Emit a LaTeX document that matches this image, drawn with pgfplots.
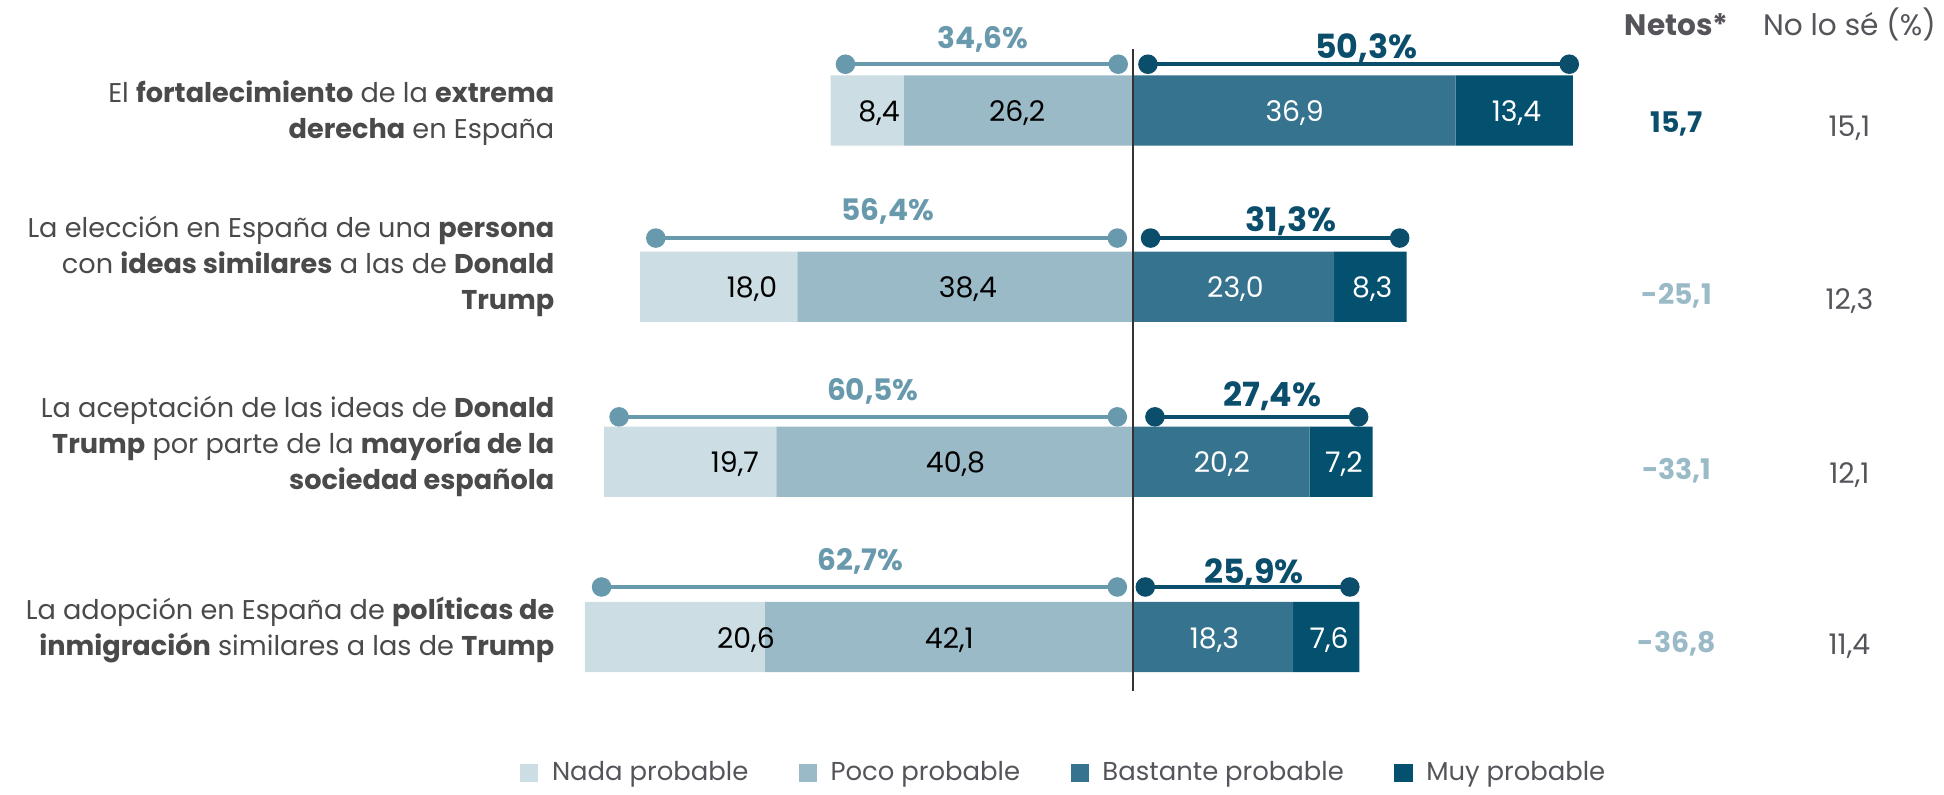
\documentclass[border=0pt]{standalone}
\usepackage{pgfplots}
\pgfplotsset{compat=1.18}
\usepackage{fontspec}
\setmainfont{Poppins}
\definecolor{nada}{HTML}{CCDDE4}
\definecolor{poco}{HTML}{9BBAC7}
\definecolor{bast}{HTML}{35738F}
\definecolor{muy}{HTML}{03506F}
\definecolor{lightc}{HTML}{6899AC}
\definecolor{darkc}{HTML}{0A4E6C}
\definecolor{txt}{HTML}{4A4A4A}
\definecolor{hdr}{HTML}{57535A}
\def\X#1{(#1-919)/7.09}
\pgfplotsset{base/.style={width=784pt, height=320.2pt, scale only axis, hide axis,
  xmin=-129.62, xmax=91.54, ymin=0, ymax=640.4, y dir=reverse, clip=false}}
\begin{document}
\begin{tikzpicture}
\begin{axis}[base, xbar stacked, bar width=57]
\addplot[fill=poco, draw=none] coordinates {(-26.2,89.5) (-38.4,232.5) (-40.8,374.5) (-42.1,516.5)};
\addplot[fill=nada, draw=none] coordinates {(-8.4,89.5) (-18.0,232.5) (-19.7,374.5) (-20.6,516.5)};
\addplot[fill=bast, draw=none] coordinates {(36.9,89.5) (23.0,232.5) (20.2,374.5) (18.3,516.5)};
\addplot[fill=muy, draw=none] coordinates {(13.4,89.5) (8.3,232.5) (7.2,374.5) (7.6,516.5)};
\path (rel axis cs:0,0) rectangle (rel axis cs:1,1);
\end{axis}
\begin{axis}[base,
  legend style={at={(0.551,0.021)}, anchor=center, draw=none, fill=none,
    legend columns=4, font=\fontsize{10.5}{13}\selectfont\color{hdr},
    /tikz/every odd column/.append style={column sep=3.5pt},
    /tikz/every even column/.append style={column sep=18.5pt}},
  legend image code/.code={\fill[#1] (0pt,-3.5pt) rectangle (7pt,3.5pt);}]
\addlegendimage{nada}\addlegendentry{Nada probable}
\addlegendimage{poco}\addlegendentry{Poco probable}
\addlegendimage{bast}\addlegendentry{Bastante probable}
\addlegendimage{muy}\addlegendentry{Muy probable}
\addplot[black!80, line width=1pt, forget plot] coordinates {(0,40) (0,560)};
\addplot[lightc, line width=1.5pt, mark=*, mark size=3.2pt, forget plot] coordinates {(-32.9,52) (-1.7,52)};
\addplot[lightc, line width=1.5pt, mark=*, mark size=3.2pt, forget plot] coordinates {(-54.6,193) (-1.8,193)};
\addplot[lightc, line width=1.5pt, mark=*, mark size=3.2pt, forget plot] coordinates {(-58.8,338) (-1.8,338)};
\addplot[lightc, line width=1.5pt, mark=*, mark size=3.2pt, forget plot] coordinates {(-60.8,476) (-1.8,476)};
\addplot[darkc, line width=1.5pt, mark=*, mark size=3.2pt, forget plot] coordinates {(1.7,52) (49.9,52)};
\addplot[darkc, line width=1.5pt, mark=*, mark size=3.2pt, forget plot] coordinates {(2.0,193) (30.5,193)};
\addplot[darkc, line width=1.5pt, mark=*, mark size=3.2pt, forget plot] coordinates {(2.5,338) (25.8,338)};
\addplot[darkc, line width=1.5pt, mark=*, mark size=3.2pt, forget plot] coordinates {(1.4,476) (24.8,476)};
\path (rel axis cs:0,0) rectangle (rel axis cs:1,1);
% percentage labels
\tikzset{pl/.style={anchor=base, font=\fontsize{12}{14}\selectfont\bfseries, text=lightc},
         pr/.style={anchor=base, font=\fontsize{13.5}{15}\selectfont\bfseries, text=darkc},
         vl/.style={anchor=base, font=\fontsize{11.5}{13}\selectfont},
         lab/.style={anchor=east, align=right, inner sep=0pt, font=\fontsize{11}{14.5}\selectfont, text=txt}}
\node[pl] at (axis cs:{\X{797}},39) {34,6\%};
\node[pr] at (axis cs:{\X{1108}},47) {50,3\%};
\node[pl] at (axis cs:{\X{720}},179) {56,4\%};
\node[pr] at (axis cs:{\X{1047}},188) {31,3\%};
\node[pl] at (axis cs:{\X{708}},325) {60,5\%};
\node[pr] at (axis cs:{\X{1032}},330) {27,4\%};
\node[pl] at (axis cs:{\X{698}},463) {62,7\%};
\node[pr] at (axis cs:{\X{1017}},473) {25,9\%};
% values in bars
\node[vl] at (axis cs:{\X{713}},98.5) {8,4};
\node[vl] at (axis cs:{\X{610}},241.5) {18,0};
\node[vl] at (axis cs:{\X{596}},383.5) {19,7};
\node[vl] at (axis cs:{\X{605}},525.5) {20,6};
\node[vl] at (axis cs:{\X{825}},98.5) {26,2};
\node[vl] at (axis cs:{\X{785}},241.5) {38,4};
\node[vl] at (axis cs:{\X{775}},383.5) {40,8};
\node[vl] at (axis cs:{\X{770}},525.5) {42,1};
\node[vl, text=white] at (axis cs:{\X{1050}},98.5) {36,9};
\node[vl, text=white] at (axis cs:{\X{1002}},241.5) {23,0};
\node[vl, text=white] at (axis cs:{\X{991}},383.5) {20,2};
\node[vl, text=white] at (axis cs:{\X{985}},525.5) {18,3};
\node[vl, text=white] at (axis cs:{\X{1230}},98.5) {13,4};
\node[vl, text=white] at (axis cs:{\X{1113}},241.5) {8,3};
\node[vl, text=white] at (axis cs:{\X{1090}},383.5) {7,2};
\node[vl, text=white] at (axis cs:{\X{1078}},525.5) {7,6};
% headers and side columns
\node[anchor=base, font=\fontsize{12}{14}\selectfont\bfseries, text=hdr] at (axis cs:{\X{1360}},29) {Netos*};
\node[anchor=base, font=\fontsize{12}{14}\selectfont, text=hdr] at (axis cs:{\X{1500}},29) {No lo sé (\%)};
\node[anchor=base, font=\fontsize{11.5}{13}\selectfont\bfseries, text=darkc] at (axis cs:{\X{1360}},107) {15,7};
\node[anchor=base, font=\fontsize{11.5}{13}\selectfont\bfseries, text=poco] at (axis cs:{\X{1360}},247) {-25,1};
\node[anchor=base, font=\fontsize{11.5}{13}\selectfont\bfseries, text=poco] at (axis cs:{\X{1360}},389) {-33,1};
\node[anchor=base, font=\fontsize{11.5}{13}\selectfont\bfseries, text=poco] at (axis cs:{\X{1360}},529) {-36,8};
\node[anchor=base, font=\fontsize{11.5}{13}\selectfont, text=hdr] at (axis cs:{\X{1500}},111) {15,1};
\node[anchor=base, font=\fontsize{11.5}{13}\selectfont, text=hdr] at (axis cs:{\X{1500}},251) {12,3};
\node[anchor=base, font=\fontsize{11.5}{13}\selectfont, text=hdr] at (axis cs:{\X{1500}},392) {12,1};
\node[anchor=base, font=\fontsize{11.5}{13}\selectfont, text=hdr] at (axis cs:{\X{1500}},531) {11,4};
% row labels
\node[lab] at (axis cs:{\X{450}},91.5) {El \textbf{fortalecimiento} de la \textbf{extrema}\\\textbf{derecha} en España};
\node[lab] at (axis cs:{\X{450}},216) {La elección en España de una \textbf{persona}\\con \textbf{ideas similares} a las de \textbf{Donald}\\\textbf{Trump}};
\node[lab] at (axis cs:{\X{450}},362) {La aceptación de las ideas de \textbf{Donald}\\\textbf{Trump} por parte de la \textbf{mayoría de la}\\\textbf{sociedad española}};
\node[lab] at (axis cs:{\X{450}},511) {La adopción en España de \textbf{políticas de}\\\textbf{inmigración} similares a las de \textbf{Trump}};
\end{axis}
\end{tikzpicture}
\end{document}
